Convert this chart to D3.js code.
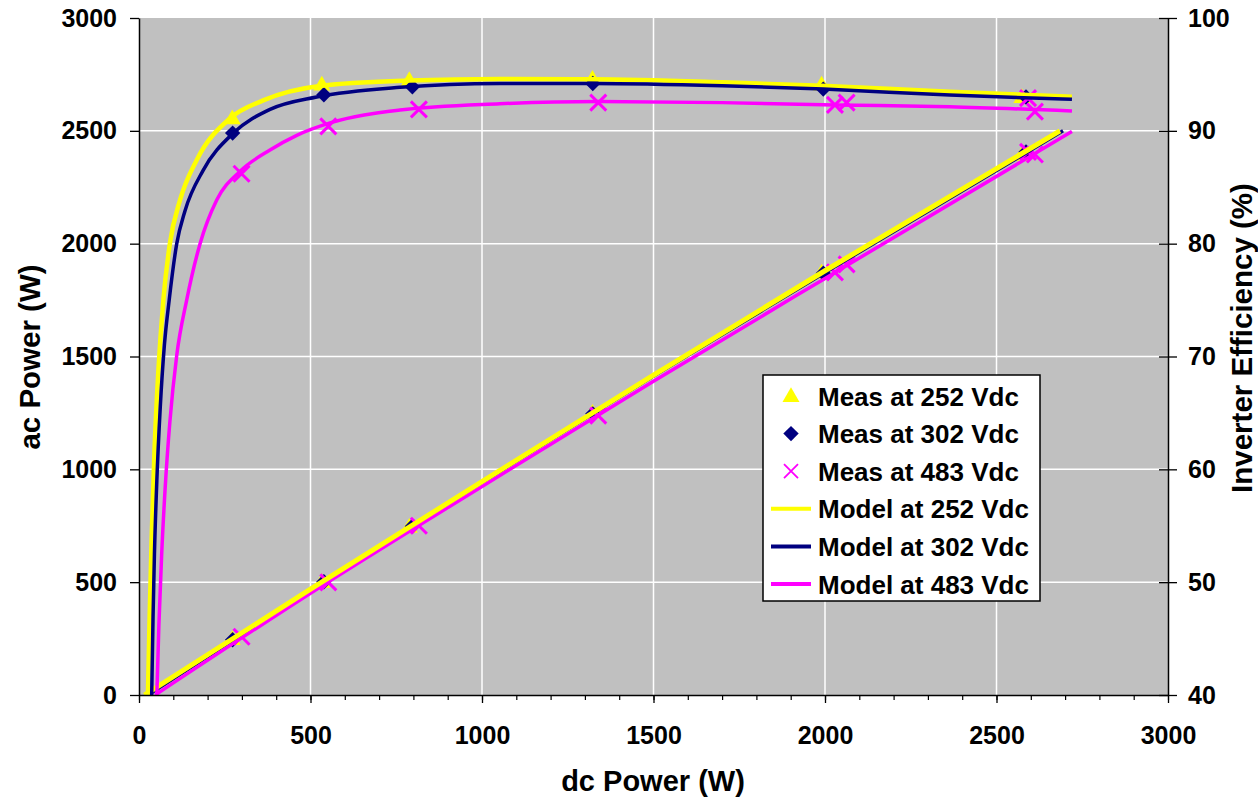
<!DOCTYPE html>
<html>
<head>
<meta charset="utf-8">
<script src="https://cdn.jsdelivr.net/npm/d3@7"></script>
<style>
  body { margin: 0; background: #fff; }
  svg { display: block; }
  text { font-family: "Liberation Sans", Arial, sans-serif; font-weight: bold; fill: #000; }
</style>
</head>
<body>
<svg id="chart" width="1258" height="799"></svg>
<script>
// ---- axis ticks ----
const dcTicks = [0, 500, 1000, 1500, 2000, 2500, 3000];
const dcMinorTicks = d3.range(0, 3001, 100);
const acTicks = [0, 500, 1000, 1500, 2000, 2500, 3000];
const effTicks = [40, 50, 60, 70, 80, 90, 100];

// ---- measured points (dc W, ac W, efficiency %) ----
const measDc252 = [272, 533, 788, 1322, 1990, 2574];
const measAc252 = [248, 501, 745, 1251, 1872, 2394];
const measEff252 = [91.1, 94.1, 94.5, 94.6, 94.1, 93.0];

const measDc302 = [273, 539, 797, 1323, 1995, 2586];
const measAc302 = [245, 502, 748, 1246, 1869, 2406];
const measEff302 = [89.8, 93.2, 93.9, 94.2, 93.7, 93.0];

const measDc483 = [299, 552, 816, 1339, 2029, 2063, 2592, 2612];
const measAc483 = [258, 499, 750, 1238, 1873, 1908, 2407, 2395];
const measEff483 = [86.2, 90.4, 91.9, 92.5, 92.3, 92.5, 92.9, 91.7];

// ---- model curves: ac power vs dc power ----
const modelAcDc252 = [16, 500, 1000, 1500, 2000, 2685];
const modelAc252   = [0, 469, 946, 1418, 1880, 2500];
const modelAcDc302 = [26, 500, 1000, 1500, 2000, 2694];
const modelAc302   = [0, 465, 942, 1413, 1872, 2500];
const modelAcDc483 = [47, 500, 1000, 1500, 2000, 2720];
const modelAc483   = [0, 451, 924, 1390, 1846, 2497];

// ---- model curves: efficiency vs dc power ----
const modelEffDc252 = [26, 31, 37, 45, 56, 71, 90, 120, 168, 265, 362, 533, 787, 1052, 1320, 1700, 1990, 2364, 2720];
const modelEff252   = [40, 47, 54, 61.5, 68.5, 75, 80, 83.9, 87.4, 91.1, 92.7, 94.0, 94.45, 94.6, 94.57, 94.3, 94.0, 93.46, 93.03];
const modelEffDc302 = [37, 41, 45, 52, 62, 74, 88, 110, 134, 187, 275, 382, 518, 761, 1052, 1323, 1700, 1995, 2364, 2720];
const modelEff302   = [40, 47, 52.5, 59, 65.5, 71, 75, 80, 82.9, 86.5, 89.8, 91.9, 93.0, 93.86, 94.2, 94.2, 94.0, 93.7, 93.17, 92.79];
const modelEffDc483 = [52, 58, 66, 76, 90, 110, 139, 178, 227, 294, 382, 460, 557, 761, 1052, 1340, 1700, 2030, 2364, 2720];
const modelEff483   = [40, 46.2, 52.4, 58.2, 64.2, 70.1, 75, 80, 83.9, 86.4, 88.3, 89.6, 90.7, 91.85, 92.4, 92.6, 92.5, 92.3, 92.14, 91.76];

const legendLabels = ["Meas at 252 Vdc", "Meas at 302 Vdc", "Meas at 483 Vdc",
                      "Model at 252 Vdc", "Model at 302 Vdc", "Model at 483 Vdc"];

const YELLOW = "#FFFF00", NAVY = "#000080", MAGENTA = "#FF00FF";

// ---- layout ----
const svg = d3.select("#chart");
const plotLeft = 139, plotRight = 1168, plotTop = 18, plotBottom = 695;

const x = d3.scaleLinear().domain([0, 3000]).range([plotLeft, plotRight]);
const y = d3.scaleLinear().domain([0, 3000]).range([plotBottom, plotTop]);
const yEff = d3.scaleLinear().domain([40, 100]).range([plotBottom, plotTop]);

// plot background
svg.append("rect").attr("x", plotLeft).attr("y", plotTop)
  .attr("width", plotRight - plotLeft).attr("height", plotBottom - plotTop).attr("fill", "#C0C0C0");

// gridlines
const grid = svg.append("g");
grid.selectAll(".gx").data(dcTicks.filter(d => d > 0 && d < 3000)).join("line")
  .attr("x1", d => x(d)).attr("x2", d => x(d)).attr("y1", plotTop).attr("y2", plotBottom)
  .attr("stroke", "#fff").attr("stroke-width", 1.5);
grid.selectAll(".gy").data(acTicks.filter(d => d > 0 && d < 3000)).join("line")
  .attr("y1", d => y(d)).attr("y2", d => y(d)).attr("x1", plotLeft).attr("x2", plotRight)
  .attr("stroke", "#fff").attr("stroke-width", 1.5);

// clip to the plot area
svg.append("defs").append("clipPath").attr("id", "plotClip")
  .append("rect").attr("x", plotLeft).attr("y", plotTop - 10)
  .attr("width", plotRight - plotLeft).attr("height", plotBottom - plotTop + 10);

const plot = svg.append("g").attr("clip-path", "url(#plotClip)");

// ---- marker shapes ----
const triPath = d3.symbol().type(d3.symbolTriangle).size(125)();
const diaPath = d3.symbol().type(d3.symbolSquare).size(118)();
const xPath = r => `M${-r},${-r}L${r},${r}M${-r},${r}L${r},${-r}`;

function drawTriangles(g, xs, ys, yScale) {
  g.append("g").selectAll("path").data(xs.map((d, i) => [d, ys[i]])).join("path")
    .attr("d", triPath)
    .attr("transform", d => `translate(${x(d[0])},${yScale(d[1]) + 1})`)
    .attr("fill", YELLOW);
}
function drawDiamonds(g, xs, ys, yScale) {
  g.append("g").selectAll("path").data(xs.map((d, i) => [d, ys[i]])).join("path")
    .attr("d", diaPath)
    .attr("transform", d => `translate(${x(d[0])},${yScale(d[1])}) rotate(45)`)
    .attr("fill", NAVY);
}
function drawCrosses(g, xs, ys, yScale) {
  g.append("g").selectAll("path").data(xs.map((d, i) => [d, ys[i]])).join("path")
    .attr("d", xPath(8))
    .attr("transform", d => `translate(${x(d[0])},${yScale(d[1])})`)
    .attr("fill", "none").attr("stroke", MAGENTA).attr("stroke-width", 3);
}

// measured markers (ac power on left axis, efficiency on right axis)
drawTriangles(plot, measDc252, measAc252, y);
drawTriangles(plot, measDc252, measEff252, yEff);
drawDiamonds(plot, measDc302, measAc302, y);
drawDiamonds(plot, measDc302, measEff302, yEff);
drawCrosses(plot, measDc483, measAc483, y);
drawCrosses(plot, measDc483, measEff483, yEff);

// model lines
const lineAc = d3.line().x(d => x(d[0])).y(d => y(d[1])).curve(d3.curveMonotoneX);
const lineEff = d3.line().x(d => x(d[0])).y(d => yEff(d[1])).curve(d3.curveMonotoneX);
const zip = (a, b) => a.map((d, i) => [d, b[i]]);

const model252 = { color: YELLOW, width: 5, ac: zip(modelAcDc252, modelAc252), eff: zip(modelEffDc252, modelEff252) };
const model302 = { color: NAVY, width: 3.5, ac: zip(modelAcDc302, modelAc302), eff: zip(modelEffDc302, modelEff302) };
const model483 = { color: MAGENTA, width: 3.5, ac: zip(modelAcDc483, modelAc483), eff: zip(modelEffDc483, modelEff483) };

// ac-power lines: 302 V underneath, then 483 V, 252 V on top
[model302, model483, model252].forEach(m => {
  plot.append("path").datum(m.ac).attr("d", lineAc)
    .attr("fill", "none").attr("stroke", m.color).attr("stroke-width", m.width)
    .attr("stroke-linejoin", "round");
});
// efficiency curves
[model252, model302, model483].forEach(m => {
  plot.append("path").datum(m.eff).attr("d", lineEff)
    .attr("fill", "none").attr("stroke", m.color).attr("stroke-width", m.width === 5 ? 4.5 : m.width)
    .attr("stroke-linejoin", "round");
});

// ---- axes ----
function styleAxis(g) {
  g.selectAll("path.domain").attr("stroke", "#000").attr("stroke-width", 1.5);
  g.selectAll(".tick line").attr("stroke", "#000").attr("stroke-width", 1.3);
  g.selectAll(".tick text").attr("font-size", 25).attr("font-weight", "bold")
    .attr("font-family", '"Liberation Sans", Arial, sans-serif').attr("fill", "#000");
}

// bottom minor ticks
svg.append("g").attr("transform", `translate(0,${plotBottom})`)
  .call(d3.axisBottom(x).tickValues(dcMinorTicks).tickSize(5).tickSizeOuter(0).tickFormat(""))
  .call(g => { g.select(".domain").remove(); g.selectAll(".tick line").attr("stroke", "#000").attr("stroke-width", 1.2); });

const xAxisG = svg.append("g").attr("transform", `translate(0,${plotBottom})`)
  .call(d3.axisBottom(x).tickValues(dcTicks).tickSize(8).tickSizeOuter(0).tickPadding(23).tickFormat(d3.format("d")));
styleAxis(xAxisG);

const yAxisG = svg.append("g").attr("transform", `translate(${plotLeft},0)`)
  .call(d3.axisLeft(y).tickValues(acTicks).tickSize(9).tickSizeOuter(0).tickPadding(13).tickFormat(d3.format("d")));
styleAxis(yAxisG);

const yEffAxisG = svg.append("g").attr("transform", `translate(${plotRight},0)`)
  .call(d3.axisRight(yEff).tickValues(effTicks).tickSize(9).tickSizeOuter(0).tickPadding(11).tickFormat(d3.format("d")));
styleAxis(yEffAxisG);
yEffAxisG.selectAll(".tick line").attr("x1", -9);

// axis titles
svg.append("text").attr("transform", `translate(40,357) rotate(-90)`)
  .attr("text-anchor", "middle").attr("font-size", 29.5).text("ac Power (W)");
svg.append("text").attr("transform", `translate(1252,338) rotate(-90)`)
  .attr("text-anchor", "middle").attr("font-size", 29.5).text("Inverter Efficiency (%)");
svg.append("text").attr("x", 653).attr("y", 791)
  .attr("text-anchor", "middle").attr("font-size", 29).text("dc Power (W)");

// ---- legend ----
const lg = svg.append("g").attr("transform", "translate(763,375)");
lg.append("rect").attr("width", 277).attr("height", 226)
  .attr("fill", "#fff").attr("stroke", "#000").attr("stroke-width", 1.5);
const rowY = i => 21 + i * 37.6;
const mx = 28;
lg.append("path").attr("d", triPath).attr("transform", `translate(${mx},${rowY(0) + 1})`).attr("fill", YELLOW);
lg.append("path").attr("d", diaPath).attr("transform", `translate(${mx},${rowY(1)}) rotate(45)`).attr("fill", NAVY);
lg.append("path").attr("d", xPath(7)).attr("transform", `translate(${mx},${rowY(2)})`)
  .attr("fill", "none").attr("stroke", MAGENTA).attr("stroke-width", 1.8);
[YELLOW, NAVY, MAGENTA].forEach((c, i) => {
  lg.append("line").attr("x1", 8).attr("x2", 48).attr("y1", rowY(3 + i)).attr("y2", rowY(3 + i))
    .attr("stroke", c).attr("stroke-width", 4);
});
lg.selectAll("text.lab").data(legendLabels).join("text")
  .attr("x", 55).attr("y", (d, i) => rowY(i) + 9.5)
  .attr("font-size", 26).text(d => d);
</script>
</body>
</html>
